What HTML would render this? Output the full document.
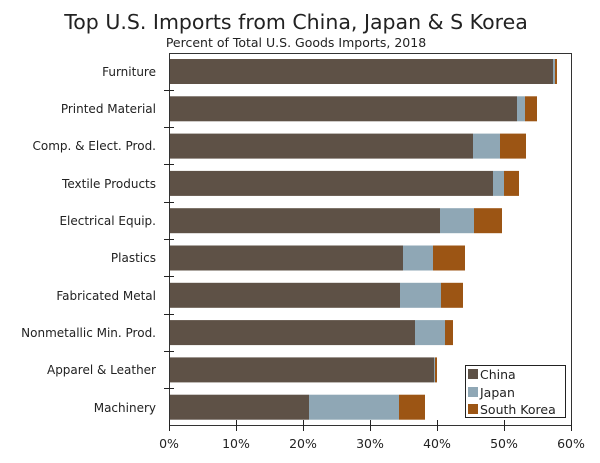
<!DOCTYPE html><html><head><style>body{margin:0;background:#fff}svg{display:block;font-family:"DejaVu Sans","Liberation Sans",sans-serif}</style></head><body>
<svg width="600" height="463" viewBox="0 0 600 463">
<text x="296" y="29" font-size="20.5" text-anchor="middle" fill="#222">Top U.S. Imports from China, Japan &amp; S Korea</text>
<text x="296" y="47" font-size="12.5" text-anchor="middle" fill="#222">Percent of Total U.S. Goods Imports, 2018</text>
<rect x="169.5" y="53.5" width="402" height="372" fill="none" stroke="#333" stroke-width="1"/>
<g>
<rect x="170" y="59" width="383" height="25" fill="#5e5146"/><rect x="553" y="59" width="2" height="25" fill="#8fa7b5"/><rect x="555" y="59" width="2" height="25" fill="#9c5514"/>
<rect x="170" y="96.3" width="347" height="25" fill="#5e5146"/><rect x="517" y="96.3" width="8" height="25" fill="#8fa7b5"/><rect x="525" y="96.3" width="12" height="25" fill="#9c5514"/>
<rect x="170" y="133.6" width="303" height="25" fill="#5e5146"/><rect x="473" y="133.6" width="27" height="25" fill="#8fa7b5"/><rect x="500" y="133.6" width="26" height="25" fill="#9c5514"/>
<rect x="170" y="170.9" width="323" height="25" fill="#5e5146"/><rect x="493" y="170.9" width="11" height="25" fill="#8fa7b5"/><rect x="504" y="170.9" width="15" height="25" fill="#9c5514"/>
<rect x="170" y="208.2" width="270" height="25" fill="#5e5146"/><rect x="440" y="208.2" width="34" height="25" fill="#8fa7b5"/><rect x="474" y="208.2" width="28" height="25" fill="#9c5514"/>
<rect x="170" y="245.5" width="233" height="25" fill="#5e5146"/><rect x="403" y="245.5" width="30" height="25" fill="#8fa7b5"/><rect x="433" y="245.5" width="32" height="25" fill="#9c5514"/>
<rect x="170" y="282.8" width="230" height="25" fill="#5e5146"/><rect x="400" y="282.8" width="41" height="25" fill="#8fa7b5"/><rect x="441" y="282.8" width="22" height="25" fill="#9c5514"/>
<rect x="170" y="320.1" width="245" height="25" fill="#5e5146"/><rect x="415" y="320.1" width="30" height="25" fill="#8fa7b5"/><rect x="445" y="320.1" width="8" height="25" fill="#9c5514"/>
<rect x="170" y="357.4" width="264" height="25" fill="#5e5146"/><rect x="434" y="357.4" width="1" height="25" fill="#8fa7b5"/><rect x="435" y="357.4" width="2" height="25" fill="#9c5514"/>
<rect x="170" y="394.7" width="139" height="25" fill="#5e5146"/><rect x="309" y="394.7" width="90" height="25" fill="#8fa7b5"/><rect x="399" y="394.7" width="26" height="25" fill="#9c5514"/>
</g>
<g font-size="12" text-anchor="end" fill="#222">
<text x="156" y="76">Furniture</text>
<text x="156" y="113">Printed Material</text>
<text x="156" y="150">Comp. &amp; Elect. Prod.</text>
<text x="156" y="188">Textile Products</text>
<text x="156" y="225">Electrical Equip.</text>
<text x="156" y="262">Plastics</text>
<text x="156" y="300">Fabricated Metal</text>
<text x="156" y="337">Nonmetallic Min. Prod.</text>
<text x="156" y="374">Apparel &amp; Leather</text>
<text x="156" y="412">Machinery</text>
</g>
<g stroke="#222" stroke-width="1">
<line x1="164" x2="174" y1="90.5" y2="90.5"/><line x1="164" x2="174" y1="127.5" y2="127.5"/><line x1="164" x2="174" y1="164.5" y2="164.5"/><line x1="164" x2="174" y1="202.5" y2="202.5"/><line x1="164" x2="174" y1="239.5" y2="239.5"/><line x1="164" x2="174" y1="276.5" y2="276.5"/><line x1="164" x2="174" y1="314.5" y2="314.5"/><line x1="164" x2="174" y1="351.5" y2="351.5"/><line x1="164" x2="174" y1="388.5" y2="388.5"/>
<line x1="236.5" x2="236.5" y1="420" y2="431"/><line x1="303.5" x2="303.5" y1="420" y2="431"/><line x1="370.5" x2="370.5" y1="420" y2="431"/><line x1="437.5" x2="437.5" y1="420" y2="431"/><line x1="504.5" x2="504.5" y1="420" y2="431"/><line x1="169.5" x2="169.5" y1="420" y2="431"/><line x1="571.5" x2="571.5" y1="420" y2="431"/>
</g>
<g font-size="12.5" text-anchor="middle" fill="#222">
<text x="169" y="448">0%</text><text x="236" y="448">10%</text><text x="303" y="448">20%</text><text x="370" y="448">30%</text><text x="437" y="448">40%</text><text x="504" y="448">50%</text><text x="571" y="448">60%</text>
</g>
<rect x="465.5" y="365.5" width="100" height="52" fill="#fff" stroke="#222"/>
<rect x="468" y="369" width="10" height="10" fill="#5e5146"/><text x="480" y="379" font-size="12.5" fill="#222">China</text>
<rect x="468" y="387" width="10" height="10" fill="#8fa7b5"/><text x="480" y="397" font-size="12.5" fill="#222">Japan</text>
<rect x="468" y="404" width="10" height="10" fill="#9c5514"/><text x="480" y="414" font-size="12.5" fill="#222">South Korea</text>
</svg></body></html>
